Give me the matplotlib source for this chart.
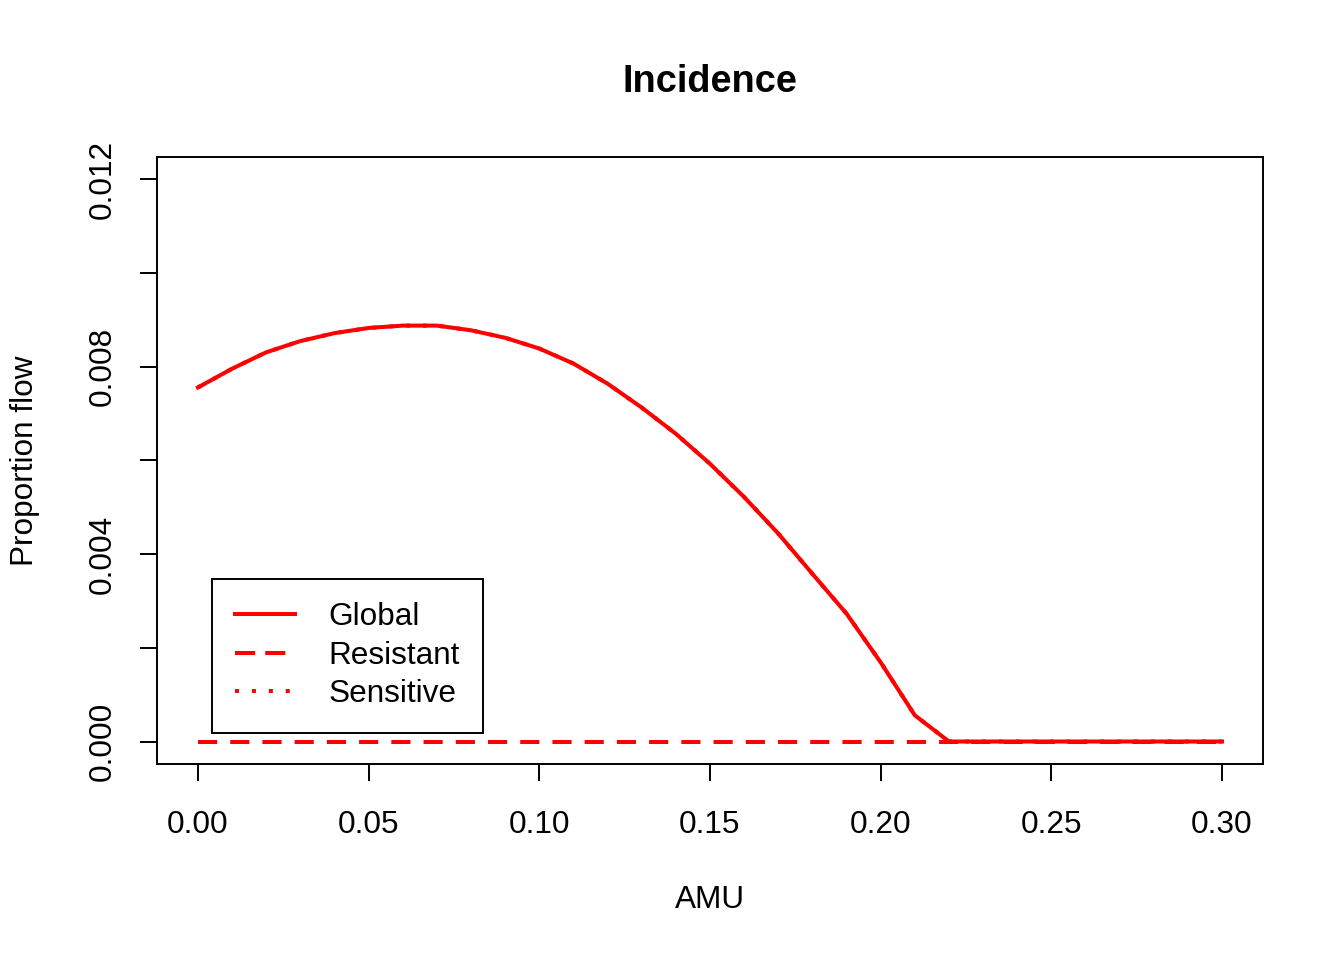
import matplotlib
matplotlib.use("Agg")
import matplotlib.pyplot as plt
from matplotlib.lines import Line2D

plt.rcParams['font.family'] = ['Liberation Sans', 'DejaVu Sans']

amu = [0.00, 0.01, 0.02, 0.03, 0.04, 0.05, 0.06, 0.07, 0.08, 0.09, 0.10,
       0.11, 0.12, 0.13, 0.14, 0.15, 0.16, 0.17, 0.18, 0.19, 0.20, 0.21,
       0.22, 0.23, 0.24, 0.25, 0.26, 0.27, 0.28, 0.29, 0.30]
global_inc = [7.56e-3, 7.96e-3, 8.31e-3, 8.55e-3, 8.72e-3, 8.83e-3, 8.88e-3,
              8.88e-3, 8.78e-3, 8.62e-3, 8.39e-3, 8.07e-3, 7.64e-3, 7.13e-3,
              6.57e-3, 5.93e-3, 5.22e-3, 4.44e-3, 3.58e-3, 2.73e-3, 1.69e-3,
              0.56e-3, 0.0, 0.0, 0.0, 0.0, 0.0, 0.0, 0.0, 0.0, 0.0]
resistant_inc = [0.0] * len(amu)
sensitive_inc = list(global_inc)

xticks = [0.00, 0.05, 0.10, 0.15, 0.20, 0.25, 0.30]
xticklabels = ["0.00", "0.05", "0.10", "0.15", "0.20", "0.25", "0.30"]
yticks = [0.000, 0.002, 0.004, 0.006, 0.008, 0.010, 0.012]
yticklabels = ["0.000", "", "0.004", "", "0.008", "", "0.012"]
series_names = ["Global", "Resistant", "Sensitive"]

W, H = 1344, 960
fig = plt.figure(figsize=(W / 100, H / 100), dpi=100)
ax = fig.add_axes([157 / W, 1 - 764 / H, (1263 - 157) / W, (764 - 157) / H])

lw = 2.9
red = '#FF0000'
dash = (4.75, 3.25)
dot = (1.0, 3.2)
fs = 22.7
ax.plot(amu, sensitive_inc, color=red, lw=lw, dashes=dot, dash_capstyle='butt')
ax.plot(amu, resistant_inc, color=red, lw=lw, dashes=dash, dash_capstyle='butt')
ax.plot(amu, global_inc, color=red, lw=lw, solid_joinstyle='round')

ax.set_xlim(-0.012, 0.312)
ax.set_ylim(-0.00048, 0.01248)
ax.set_xticks(xticks)
ax.set_xticklabels(xticklabels)
ax.set_yticks(yticks)
ax.set_yticklabels(yticklabels, rotation=90, va='center')
ax.tick_params(axis='both', direction='out', length=12, width=1.4, labelsize=fs, colors='black')
ax.tick_params(axis='x', pad=21)
ax.tick_params(axis='y', pad=16)
for s in ax.spines.values():
    s.set_linewidth(1.4)

fig.text(710 / W, 1 - 82 / H, "Incidence", ha='center', va='center', fontsize=27.3, fontweight='bold')
fig.text(710 / W, 1 - 900 / H, "AMU", ha='center', va='center', fontsize=fs)
fig.text(25 / W, 1 - 461 / H, "Proportion flow", ha='center', va='center', fontsize=fs, rotation=90)

handles = [Line2D([0], [0], color=red, lw=lw),
           Line2D([0], [0], color=red, lw=lw, dashes=(5, 2.5), dash_capstyle='butt'),
           Line2D([0], [0], color=red, lw=lw, dashes=dot, dash_capstyle='butt')]
leg = ax.legend(handles, series_names,
                loc='upper left', bbox_to_anchor=((212 - 157) / (1263 - 157), (764 - 579) / (764 - 157)),
                fontsize=fs, frameon=True, fancybox=False, framealpha=1,
                edgecolor='black', handlelength=1.9, handletextpad=1.05,
                labelspacing=0.27, borderpad=0.74, borderaxespad=0)
leg.get_frame().set_linewidth(1.4)

fig.savefig("out.png", dpi=100)
